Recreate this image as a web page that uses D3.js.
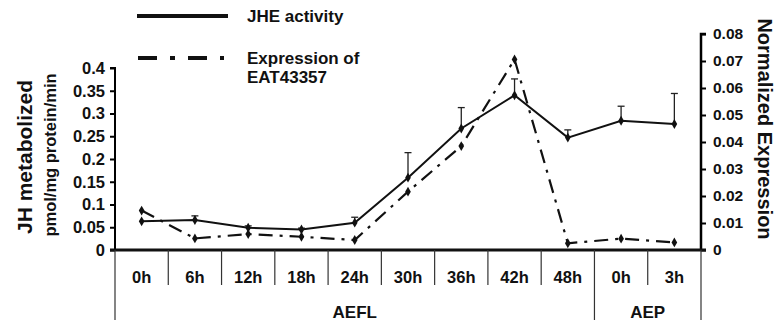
<!DOCTYPE html>
<html lang="en">
<head>
<meta charset="UTF-8">
<title>JHE activity</title>
<script src="https://cdn.jsdelivr.net/npm/d3@7/dist/d3.min.js"></script>
<style>
  body { margin: 0; background: #fff; }
  text { font-family: "Liberation Sans", Arial, sans-serif; font-weight: bold; fill: #111; }
</style>
</head>
<body>
<div id="box"></div>
<script>
// data
const categories = ["0h","6h","12h","18h","24h","30h","36h","42h","48h","0h","3h"];
const groups = [{name:"AEFL", from:0, to:9}, {name:"AEP", from:9, to:11}];
const jheActivity = [0.063, 0.066, 0.049, 0.045, 0.060, 0.159, 0.267, 0.340, 0.247, 0.284, 0.277];
const jheErrorTop = [0.063, 0.075, 0.053, 0.048, 0.072, 0.214, 0.313, 0.376, 0.264, 0.316, 0.344];
const expression = [0.0146, 0.0043, 0.0059, 0.0049, 0.0037, 0.0216, 0.0385, 0.0706, 0.0025, 0.0042, 0.0028];
const leftTicks = [0,0.05,0.1,0.15,0.2,0.25,0.3,0.35,0.4];
const rightTicks = [0,0.01,0.02,0.03,0.04,0.05,0.06,0.07,0.08];

const svg = d3.select("#box").append("svg").attr("width", 778).attr("height", 325);
const x0 = 115, x1 = 701, yBase = 250;

const idx = categories.map((d,i) => i);
const x = d3.scaleBand().domain(idx).range([x0, x1]);
const yL = d3.scaleLinear().domain([0, 0.4]).range([yBase, 68]);
const yR = d3.scaleLinear().domain([0, 0.08]).range([yBase, 34]);
const cx = i => x(i) + x.bandwidth()/2;

// left axis
const gl = svg.append("g").attr("transform", `translate(${x0},0)`)
  .call(d3.axisLeft(yL).tickValues(leftTicks).tickSize(5).tickPadding(5).tickFormat(d3.format("~g")));
gl.select(".domain").attr("stroke-width", 2).attr("d", `M-5,${yL(0.4)}H0V${yBase}`);
gl.selectAll(".tick line").attr("stroke-width", 2);
gl.selectAll(".tick text").attr("font-size", 16.5);

// right axis
const gr = svg.append("g").attr("transform", `translate(${x1},0)`)
  .call(d3.axisRight(yR).tickValues(rightTicks).tickSize(5).tickPadding(7).tickFormat(d3.format("~g")));
gr.select(".domain").attr("stroke-width", 2.5).attr("d", `M5,${yR(0.08)}H0V${yBase}`);
gr.selectAll(".tick line").attr("stroke-width", 2);
gr.selectAll(".tick text").attr("font-size", 15.5);

// baseline
svg.append("line").attr("x1", x0 - 5).attr("x2", x1 + 5).attr("y1", yBase).attr("y2", yBase)
  .attr("stroke", "#111").attr("stroke-width", 3);

// category separators and labels
idx.forEach(i => {
  const isGroupEdge = groups.some(g => g.from === i);
  svg.append("line").attr("x1", x(i)).attr("x2", x(i)).attr("y1", yBase).attr("y2", isGroupEdge ? 320 : 285)
    .attr("stroke", "#333").attr("stroke-width", 1.2);
  svg.append("text").attr("x", cx(i)).attr("y", 277).attr("dy", "0.35em")
    .attr("text-anchor", "middle").attr("font-size", 16.5).text(categories[i]);
});
svg.append("line").attr("x1", x1).attr("x2", x1).attr("y1", yBase).attr("y2", 320)
  .attr("stroke", "#333").attr("stroke-width", 1.2);
groups.forEach(g => {
  svg.append("text").attr("x", (x(g.from) + x(g.to - 1) + x.bandwidth())/2).attr("y", 312).attr("dy", "0.35em")
    .attr("text-anchor", "middle").attr("font-size", 17).text(g.name);
});

// error bars
idx.forEach(i => {
  if (jheErrorTop[i] <= jheActivity[i]) return;
  svg.append("line").attr("x1", cx(i)).attr("x2", cx(i)).attr("y1", yL(jheActivity[i])).attr("y2", yL(jheErrorTop[i]))
    .attr("stroke", "#222").attr("stroke-width", 1.3);
  svg.append("line").attr("x1", cx(i) - 3.5).attr("x2", cx(i) + 3.5).attr("y1", yL(jheErrorTop[i])).attr("y2", yL(jheErrorTop[i]))
    .attr("stroke", "#222").attr("stroke-width", 1.3);
});

// expression line (dash-dot)
svg.append("path").datum(idx)
  .attr("d", d3.line().x(cx).y(i => yR(expression[i])))
  .attr("fill", "none").attr("stroke", "#111").attr("stroke-width", 2.2)
  .attr("stroke-dasharray", "14,7,3,7");

// JHE line (solid)
svg.append("path").datum(idx)
  .attr("d", d3.line().x(cx).y(i => yL(jheActivity[i])))
  .attr("fill", "none").attr("stroke", "#111").attr("stroke-width", 2);

const diamond = d3.symbol().type(d3.symbolDiamond).size(28);
idx.forEach(i => {
  svg.append("path").attr("d", diamond).attr("transform", `translate(${cx(i)},${yR(expression[i])})`).attr("fill", "#111");
  svg.append("path").attr("d", diamond).attr("transform", `translate(${cx(i)},${yL(jheActivity[i])})`).attr("fill", "#111");
});

// legend
svg.append("line").attr("x1", 137).attr("x2", 228).attr("y1", 16).attr("y2", 16)
  .attr("stroke", "#111").attr("stroke-width", 4);
svg.append("text").attr("x", 247).attr("y", 16).attr("dy", "0.35em").attr("font-size", 17).text("JHE activity");
svg.append("line").attr("x1", 138).attr("x2", 224).attr("y1", 58).attr("y2", 58)
  .attr("stroke", "#111").attr("stroke-width", 4).attr("stroke-dasharray", "19,13,5,13");
svg.append("text").attr("x", 247).attr("y", 58).attr("dy", "0.35em").attr("font-size", 17).text("Expression of");
svg.append("text").attr("x", 247).attr("y", 77).attr("dy", "0.35em").attr("font-size", 17).text("EAT43357");

// axis titles
svg.append("text").attr("transform", "translate(25,157) rotate(-90)").attr("dy", "0.35em")
  .attr("text-anchor", "middle").attr("font-size", 21).text("JH metabolized");
svg.append("text").attr("transform", "translate(50,155) rotate(-90)").attr("dy", "0.35em")
  .attr("text-anchor", "middle").attr("font-size", 16.5).text("pmol/mg protein/min");
svg.append("text").attr("transform", "translate(765,129) rotate(90)").attr("dy", "0.35em")
  .attr("text-anchor", "middle").attr("font-size", 20).text("Normalized Expression");
</script>
</body>
</html>
